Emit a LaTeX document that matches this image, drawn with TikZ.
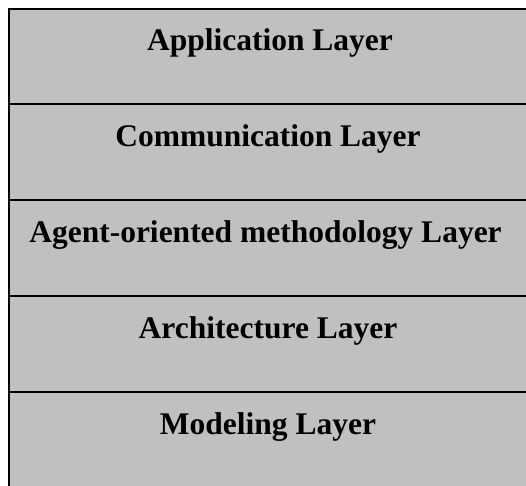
\documentclass[tikz,border=0pt]{standalone}
\usepackage{fontspec}
\setmainfont{Liberation Serif}
\definecolor{layergrey}{RGB}{192,192,192}
\begin{document}
\begin{tikzpicture}[x=1pt,y=-1pt,
  layerbox/.style={fill=layergrey,draw=black,line width=2pt},
  layertext/.style={anchor=base,inner sep=0pt,font=\fontsize{31.5}{36}\selectfont\bfseries}]
\useasboundingbox (0,0) rectangle (526,485);
\clip (0,0) rectangle (526,485);
% stacked layers, the right and bottom edges run past the page edge
\draw[layerbox] (9,9) rectangle (540,104);
\draw[layerbox] (9,104) rectangle (540,200);
\draw[layerbox] (9,200) rectangle (540,296);
\draw[layerbox] (9,296) rectangle (540,392);
\draw[layerbox] (9,392) rectangle (540,500);
% layer titles
\node[layertext] (app)  at (270,50)  {Application Layer};
\node[layertext] (comm) at (268,146) {Communication Layer};
\node[layertext] (meth) at (265.5,242) {Agent-oriented methodology Layer};
\node[layertext] (arch) at (268,338) {Architecture Layer};
\node[layertext] (model) at (268,434) {Modeling Layer};
\end{tikzpicture}
\end{document}
